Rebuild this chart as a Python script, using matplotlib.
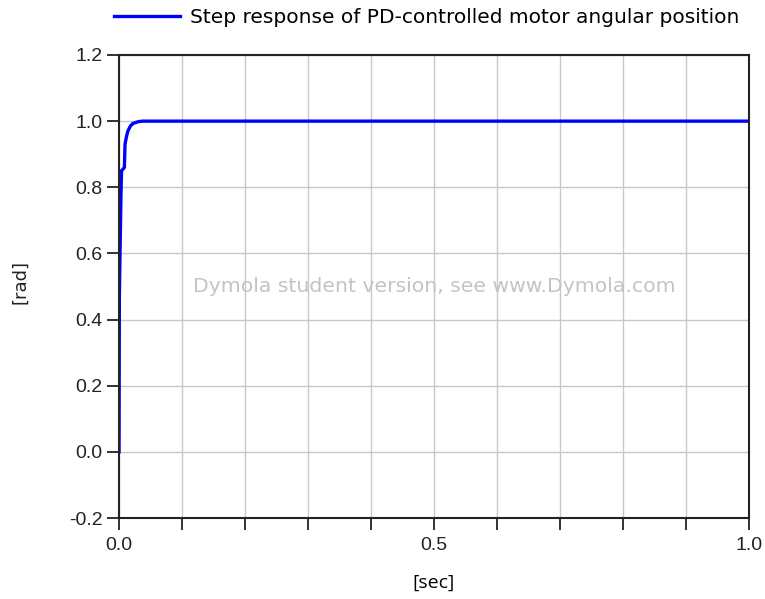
import numpy as np
import matplotlib.pyplot as plt
from matplotlib.ticker import MultipleLocator

# step response samples
t = [0.0, 0.0005, 0.003, 0.004, 0.0085, 0.0095, 0.012, 0.014, 0.018, 0.022, 0.03, 0.037, 1.0]
phi = [0.0, 0.47, 0.77, 0.85, 0.86, 0.93, 0.955, 0.97, 0.985, 0.993, 0.998, 1.0, 1.0]

x_ticks = [0.0, 0.5, 1.0]
x_ticklabels = ["0.0", "0.5", "1.0"]
y_ticks = [-0.2, 0.0, 0.2, 0.4, 0.6, 0.8, 1.0, 1.2]
y_ticklabels = ["-0.2", "0.0", "0.2", "0.4", "0.6", "0.8", "1.0", "1.2"]

plt.rcParams['font.family'] = ['Liberation Sans', 'DejaVu Sans']

fig = plt.figure(figsize=(7.65, 5.99), dpi=100)
ax = fig.add_axes([0.1556, 0.1352, 0.8235, 0.773])

ax.plot(t, phi, color='#0000ff', lw=2.4, solid_joinstyle='miter',
        label="Step response of PD-controlled motor angular position")

ax.set_xlim(0, 1.0)
ax.set_ylim(-0.2, 1.2)
ax.set_xticks(x_ticks)
ax.set_xticklabels(x_ticklabels, family='Liberation Sans', fontsize=14)
ax.xaxis.set_minor_locator(MultipleLocator(0.1))
ax.set_yticks(y_ticks)
ax.set_yticklabels(y_ticklabels, family='Liberation Sans', fontsize=14)
ax.grid(True, which='both', axis='x', color='#c8c8c8', lw=1)
ax.grid(True, which='major', axis='y', color='#c8c8c8', lw=1)
ax.set_axisbelow(True)

ax.tick_params(which='both', direction='out', length=8.5, width=1.3, colors='#222222')
ax.tick_params(axis='y', pad=3.5)
ax.tick_params(axis='x', pad=5.5)
for s in ax.spines.values():
    s.set_linewidth(1.5)
    s.set_color('#222222')

ax.set_xlabel("[sec]", fontsize=14, family='Open Sans', labelpad=14)
ax.set_ylabel("[rad]", fontsize=13, color='#222222', family='DejaVu Sans')
ax.yaxis.set_label_coords(-0.142, 0.51)

ax.text(0.5, 0.5, "Dymola student version, see www.Dymola.com", color='#c4c4c4',
        fontsize=14.7, family='DejaVu Sans', ha='center', va='center')

ax.legend(loc='center right', bbox_to_anchor=(0.967, 0.97), bbox_transform=fig.transFigure,
          frameon=False, prop={'family': 'DejaVu Sans', 'size': 14.5},
          handlelength=3.3, handletextpad=0.5, borderpad=0, borderaxespad=0)

fig.savefig("out.png", dpi=100)
